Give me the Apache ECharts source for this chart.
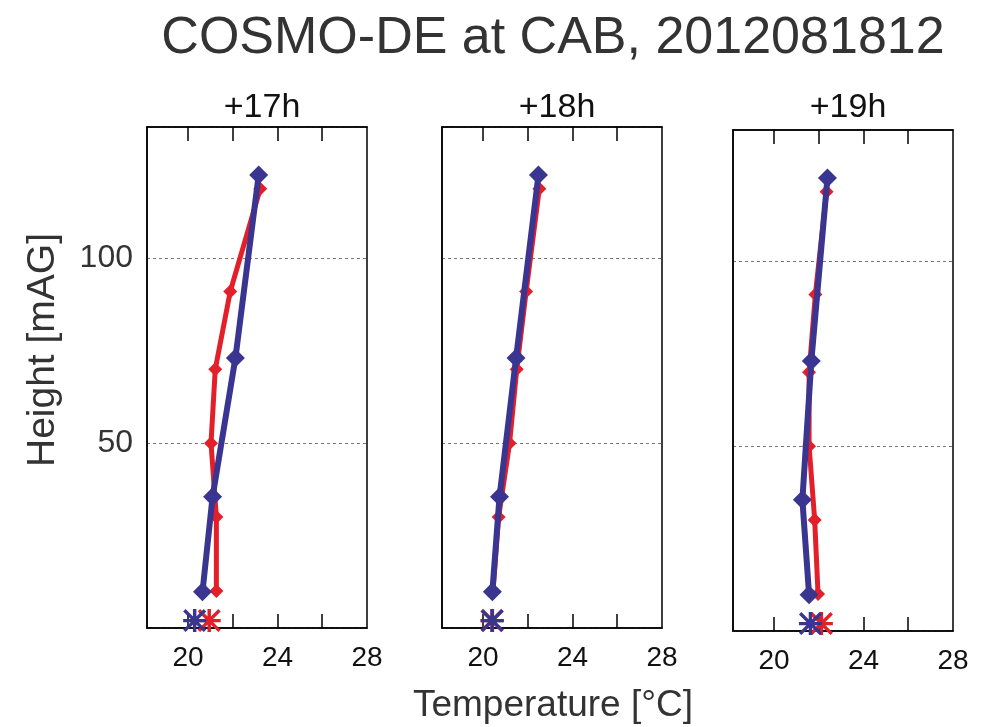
<!DOCTYPE html>
<html>
<head>
<meta charset="utf-8">
<script src="https://cdn.jsdelivr.net/npm/echarts@6/dist/echarts.min.js"></script>
<style>html,body{margin:0;padding:0;background:#fff}#c{width:984px;height:727px}</style>
</head>
<body>
<div id="c"></div>
<script>
// ---- data ----
const panelTitles = ['+17h', '+18h', '+19h'];
const modelHeights = [122.5, 73, 35.5, 9.8];
const obsHeights = [118.8, 91, 70, 50, 30, 10];
const surfaceHeight = 2;
const modelTemp17 = [23.16, 22.12, 21.10, 20.65];
const obsTemp17 = [23.23, 21.89, 21.22, 21.03, 21.27, 21.27];
const modelTemp18 = [22.48, 21.48, 20.74, 20.42];
const obsTemp18 = [22.52, 21.93, 21.51, 21.19, 20.70, 20.45];
const modelTemp19 = [22.39, 21.67, 21.27, 21.57];
const obsTemp19 = [22.35, 21.85, 21.57, 21.57, 21.82, 21.97];
const modelSurface = [20.30, 20.42, 21.63];
const obsSurface = [20.95, 20.40, 22.12];
const xLabelValues = [20, 24, 28];
const xTickValues = [20, 22, 24, 26];
const yLabelValues = [50, 100];

const modelTemps = [modelTemp17, modelTemp18, modelTemp19];
const obsTemps = [obsTemp17, obsTemp18, obsTemp19];

const RED = '#e3202a';
const BLUE = '#3a3590';
const FONT = 'Liberation Sans, Arial, sans-serif';
const STAR = 'path://M0 8.5 L20 8.5 L20 11.5 L0 11.5 Z M8.5 0 L11.5 0 L11.5 20 L8.5 20 Z M2.1 0 L20 17.9 L17.9 20 L0 2.1 Z M17.9 0 L20 2.1 L2.1 20 L0 17.9 Z';

const grids = [
  {left: 147, top: 127, width: 220, height: 501},
  {left: 442, top: 127, width: 220, height: 501},
  {left: 733, top: 130, width: 220, height: 501}
];

const grid = grids.map(g => Object.assign({show: true, borderColor: '#000', borderWidth: 1.5, backgroundColor: 'transparent'}, g));
const xAxis = [];
const yAxis = [];
const series = [];
grids.forEach((g, i) => {
  xAxis.push({
    type: 'value', gridIndex: i, position: 'bottom', min: 18.17, max: 28,
    axisLine: {show: true, lineStyle: {color: '#000', width: 1.5}},
    axisTick: {show: true, inside: true, length: 14, customValues: xTickValues, lineStyle: {color: '#000', width: 1.5}},
    axisLabel: {show: true, customValues: xLabelValues, margin: 16, color: '#111', fontSize: 28, fontFamily: FONT},
    splitLine: {show: false}
  });
  xAxis.push({
    type: 'value', gridIndex: i, position: 'top', min: 18.17, max: 28,
    axisLine: {show: true, lineStyle: {color: '#000', width: 1.5}},
    axisTick: {show: true, inside: true, length: 14, customValues: xTickValues, lineStyle: {color: '#000', width: 1.5}},
    axisLabel: {show: false},
    splitLine: {show: false}
  });
  yAxis.push({
    type: 'value', gridIndex: i, min: 0, max: 135.5, interval: 50,
    axisLine: {show: true, lineStyle: {color: '#000', width: 1.5}},
    axisTick: {show: false},
    axisLabel: {show: i === 0, customValues: yLabelValues, margin: 14, color: '#333', fontSize: 32, fontFamily: FONT},
    splitLine: {show: true, lineStyle: {color: '#555', type: [3, 3], width: 0.8}}
  });
  series.push({
    type: 'line', xAxisIndex: 2 * i, yAxisIndex: i, z: 2,
    data: obsTemps[i].map((t, k) => [t, obsHeights[k]]),
    symbol: 'diamond', symbolSize: 14, showSymbol: true,
    lineStyle: {color: RED, width: 5}, itemStyle: {color: RED}, animation: false
  });
  series.push({
    type: 'scatter', xAxisIndex: 2 * i, yAxisIndex: i, z: 2,
    data: [[obsSurface[i], surfaceHeight]],
    symbol: STAR, symbolSize: 23, itemStyle: {color: RED, opacity: 1}, animation: false
  });
  series.push({
    type: 'line', xAxisIndex: 2 * i, yAxisIndex: i, z: 3,
    data: modelTemps[i].map((t, k) => [t, modelHeights[k]]),
    symbol: 'diamond', symbolSize: 19, showSymbol: true,
    lineStyle: {color: BLUE, width: 6}, itemStyle: {color: BLUE}, animation: false
  });
  series.push({
    type: 'scatter', xAxisIndex: 2 * i, yAxisIndex: i, z: 3,
    data: [[modelSurface[i], surfaceHeight]],
    symbol: STAR, symbolSize: 23, itemStyle: {color: BLUE, opacity: 1}, animation: false
  });
});

const title = [
  {text: 'COSMO-DE at CAB, 2012081812', left: 548, top: 8, textAlign: 'center',
   textStyle: {fontSize: 52, fontWeight: 'normal', color: '#333', fontFamily: FONT}}
].concat(panelTitles.map((t, i) => ({
  text: t, left: grids[i].left + grids[i].width / 2, top: 86, textAlign: 'center',
  textStyle: {fontSize: 34, fontWeight: 'normal', color: '#111', fontFamily: FONT}
})));

const chart = echarts.init(document.getElementById('c'), null, {renderer: 'canvas'});
chart.setOption({
  backgroundColor: '#fff',
  animation: false,
  title: title,
  grid: grid,
  xAxis: xAxis,
  yAxis: yAxis,
  series: series,
  graphic: [
    {type: 'text', x: 43, y: 350, rotation: Math.PI / 2,
     style: {text: 'Height [mAG]', fill: '#333', font: '39px ' + FONT, align: 'center', verticalAlign: 'middle'}},
    {type: 'text', x: 553, y: 706,
     style: {text: 'Temperature [°C]', fill: '#333', font: '37px ' + FONT, align: 'center', verticalAlign: 'middle'}}
  ]
});
</script>
</body>
</html>
